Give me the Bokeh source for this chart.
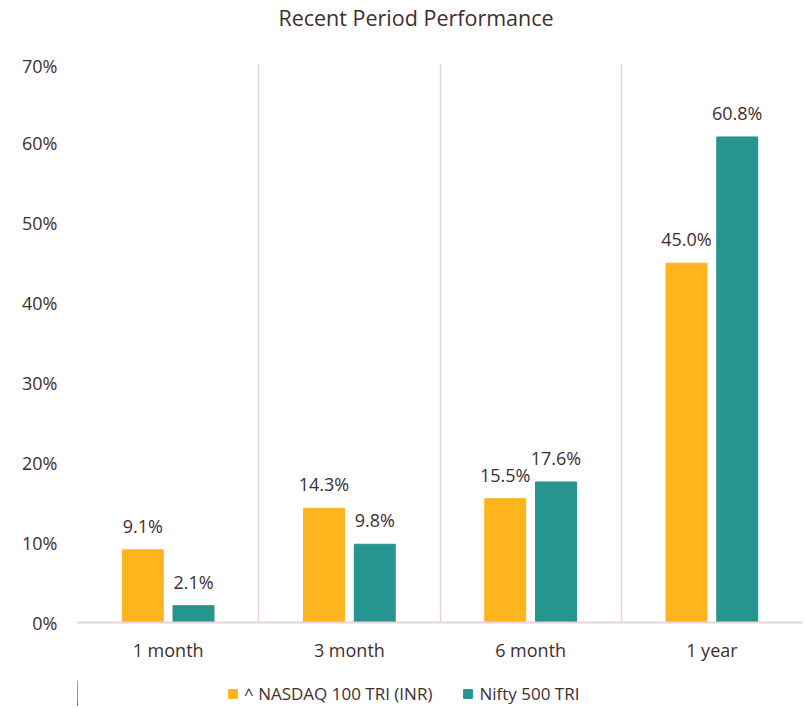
import numpy as np
from bokeh.plotting import figure
from bokeh.layouts import column
from bokeh.models import (ColumnDataSource, Range1d, FixedTicker, NumeralTickFormatter,
                          Legend, LegendItem, Label)
from bokeh.core.properties import value
from bokeh.embed import file_html
from bokeh.resources import INLINE

categories = ["1 month", "3 month", "6 month", "1 year"]
nasdaq = [9.1, 14.3, 15.5, 45.0]
nifty = [2.1, 9.8, 17.6, 60.8]
series_names = ["^ NASDAQ 100 TRI (INR)", "Nifty 500 TRI"]
y_ticks = [0, 0.1, 0.2, 0.3, 0.4, 0.5, 0.6, 0.7]
title_text = "Recent Period Performance"

FONT = "Open Sans"
TXT = "#3f2e2e"
GRID = "#e8d4d7"
ORANGE = "#fdb41d"
TEAL = "#26948f"
W = 804
FRAME_W = 725

n = len(categories)
centers = np.arange(n) + 0.5
off = 0.14
bw = 0.226

src = ColumnDataSource(dict(
    x1=centers - off, x2=centers + off,
    a=np.array(nasdaq) / 100, b=np.array(nifty) / 100,
    la=[f"{v:.1f}%" for v in nasdaq], lb=[f"{v:.1f}%" for v in nifty],
))

# ---- header with the title (frame is aligned with the main chart's frame)
HEAD_H = 53
head = figure(width=W, height=HEAD_H, output_backend="svg", toolbar_location=None,
              x_range=Range1d(0, FRAME_W), y_range=Range1d(0, HEAD_H),
              x_axis_type=None, y_axis_type=None, min_border=0)
head.outline_line_color = None
head.grid.visible = False
head.add_layout(Label(x=338.5, y=HEAD_H - 17, text=title_text, text_align="center",
                      text_baseline="middle", text_font=FONT, text_font_size="21.5px",
                      text_color=TXT))

# ---- main chart
p = figure(frame_width=FRAME_W, frame_height=559, output_backend="svg", toolbar_location=None,
           x_range=Range1d(0, n), y_range=Range1d(0, 0.7),
           min_border_left=77, min_border_right=2, min_border_top=10, min_border_bottom=42)
p.outline_line_color = None
p.background_fill_color = "white"

p.vbar(x="x1", top="a", width=bw, source=src, color=ORANGE)
p.vbar(x="x2", top="b", width=bw, source=src, color=TEAL)

for xcol, ycol, lcol in (("x1", "a", "la"), ("x2", "b", "lb")):
    p.text(x=xcol, y=ycol, text=lcol, source=src, text_align="center",
           text_baseline="alphabetic", y_offset=-24, text_font=value(FONT),
           text_font_size="18px", text_color=TXT)

p.xaxis.ticker = FixedTicker(ticks=list(centers))
p.xaxis.major_label_overrides = {float(c): cat for c, cat in zip(centers, categories)}
p.xaxis.major_tick_line_color = None
p.xaxis.major_tick_out = 0
p.xaxis.minor_tick_line_color = None
p.xaxis.axis_line_color = GRID
p.xaxis.axis_line_width = 2
p.xaxis.major_label_text_font = FONT
p.xaxis.major_label_text_font_size = "18px"
p.xaxis.major_label_text_color = TXT
p.xaxis.major_label_standoff = 15

p.yaxis.ticker = FixedTicker(ticks=y_ticks)
p.yaxis.formatter = NumeralTickFormatter(format="0%")
p.yaxis.axis_line_color = None
p.yaxis.major_tick_line_color = None
p.yaxis.major_tick_out = 0
p.yaxis.minor_tick_line_color = None
p.yaxis.major_label_text_font = FONT
p.yaxis.major_label_text_font_size = "18px"
p.yaxis.major_label_text_color = TXT
p.yaxis.major_label_standoff = 20

p.ygrid.grid_line_color = None
p.xgrid.ticker = FixedTicker(ticks=list(range(n + 1)))
p.xgrid.grid_line_color = GRID
p.xgrid.grid_line_width = 1.5

# ---- legend strip (its x range lies away from the bars, so only the legend shows)
LEG_H = 42
leg = figure(width=W, height=LEG_H, output_backend="svg", toolbar_location=None,
             x_range=Range1d(100, 101), y_range=Range1d(0, 1),
             x_axis_type=None, y_axis_type=None, min_border=0)
leg.outline_line_color = None
leg.grid.visible = False
k1 = leg.vbar(x="x1", top="a", width=bw, source=src, color=ORANGE)
k2 = leg.vbar(x="x2", top="b", width=bw, source=src, color=TEAL)
legend = Legend(items=[LegendItem(label=series_names[0], renderers=[k1]),
                       LegendItem(label=series_names[1], renderers=[k2])],
                orientation="horizontal", location=(150, 1),
                label_text_font=FONT, label_text_font_size="17px", label_text_color=TXT,
                glyph_width=11, glyph_height=11, spacing=30, padding=1, margin=0,
                border_line_color=None, background_fill_alpha=0, label_standoff=6)
leg.add_layout(legend, "center")

layout = column(head, p, leg, spacing=0)
open("out.html", "w").write(file_html(layout, INLINE))
